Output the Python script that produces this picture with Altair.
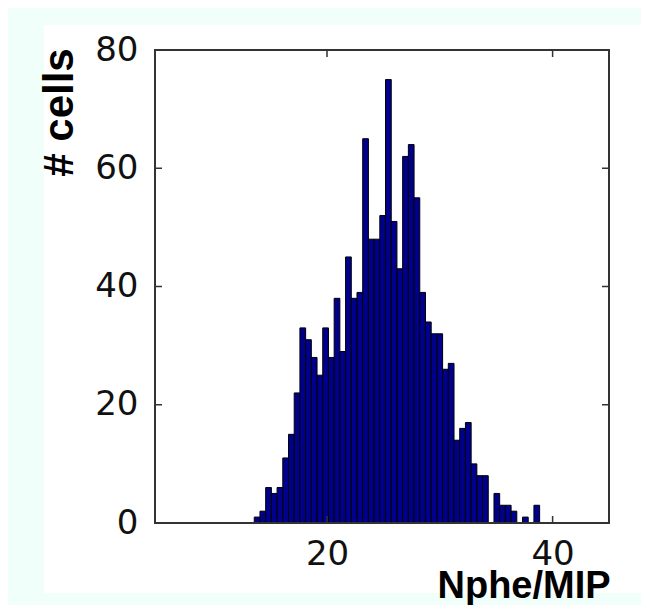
import altair as alt
import pandas as pd

# histogram counts (50 bins)
bin_counts = [1, 2, 6, 5, 6, 11, 15, 22, 33, 31,
              28, 25, 33, 28, 38, 29, 45, 38, 39, 65,
              48, 48, 52, 75, 51, 43, 62, 64, 55, 39,
              34, 32, 32, 26, 27, 14, 16, 17, 10, 8,
              8, 0, 5, 3, 3, 2, 0, 1, 0, 3]
bin_start = 13.55
bin_width = 0.506
x_tick_values = [20, 40]
y_tick_values = [0, 20, 40, 60, 80]
x_domain = [4.75, 45.0]
y_domain = [0, 80]

W, H = 454, 473

bins = pd.DataFrame({
    "lo": [bin_start + i * bin_width for i in range(len(bin_counts))],
    "count": bin_counts,
})
bins["hi"] = bins["lo"] + bin_width
bins = bins[bins["count"] > 0]

xt = pd.DataFrame({"v": x_tick_values})
yt = pd.DataFrame({"v": y_tick_values})
one = pd.DataFrame({"a": [0]})

xs = alt.Scale(domain=x_domain, nice=False, zero=False)
ys = alt.Scale(domain=y_domain, nice=False, zero=False)

x_axis = alt.Axis(values=x_tick_values, title="Nphe/MIP", grid=False, domain=False,
                  ticks=False, tickSize=0, labelFont="DejaVu Sans", labelFontSize=34,
                  labelColor="#111111", labelPadding=14, labelFlush=False, labelOverlap=False,
                  titleFont="Liberation Sans", titleFontSize=38, titleFontWeight="bold",
                  titleColor="#000000", titleX=282, titleY=74, titleAlign="left",
                  titleBaseline="alphabetic", zindex=1)
y_axis = alt.Axis(values=y_tick_values, title="# cells", grid=False, domain=False,
                  ticks=False, tickSize=0, labelFont="DejaVu Sans", labelFontSize=34,
                  labelColor="#111111", labelPadding=17, labelFlush=False, labelOverlap=False,
                  titleFont="Liberation Sans", titleFontSize=42, titleFontWeight="bold",
                  titleColor="#000000", titleAngle=270, titleX=-83, titleY=62,
                  titleAlign="center", titleBaseline="alphabetic", zindex=1)

bg = alt.Chart(one).mark_rect(color="white").encode(
    x=alt.value(-111), x2=alt.value(494), y=alt.value(-25), y2=alt.value(543))

bars = alt.Chart(bins).mark_rect(fill="#00008c", stroke="black", strokeWidth=1).encode(
    x=alt.X("lo:Q", scale=xs, axis=x_axis),
    x2="hi:Q",
    y=alt.Y("count:Q", scale=ys, axis=y_axis),
    y2=alt.datum(0),
)

tick_style = dict(color="#333333", strokeWidth=1.5)
yl = alt.Chart(yt).mark_rule(**tick_style).encode(
    y=alt.Y("v:Q", scale=ys, axis=y_axis), x=alt.value(0), x2=alt.value(7))
yr = alt.Chart(yt).mark_rule(**tick_style).encode(
    y=alt.Y("v:Q", scale=ys, axis=y_axis), x=alt.value(W - 7), x2=alt.value(W))
xb = alt.Chart(xt).mark_rule(**tick_style).encode(
    x=alt.X("v:Q", scale=xs, axis=x_axis), y=alt.value(H), y2=alt.value(H - 7))
xtp = alt.Chart(xt).mark_rule(**tick_style).encode(
    x=alt.X("v:Q", scale=xs, axis=x_axis), y=alt.value(0), y2=alt.value(7))

box = alt.Chart(one).mark_rect(fill="transparent", stroke="#333333", strokeWidth=2).encode(
    x=alt.value(0), x2=alt.value(W), y=alt.value(0), y2=alt.value(H))

chart = alt.layer(bg, bars, yl, yr, xb, xtp, box).properties(
    width=W, height=H,
    background="#f0fffa",
    padding={"left": 147, "top": 42, "right": 32, "bottom": 82},
    autosize=alt.AutoSizeParams(type="none"),
).configure_view(strokeWidth=0)

chart.save("out.html", embed_options={"renderer": "svg", "actions": False})
